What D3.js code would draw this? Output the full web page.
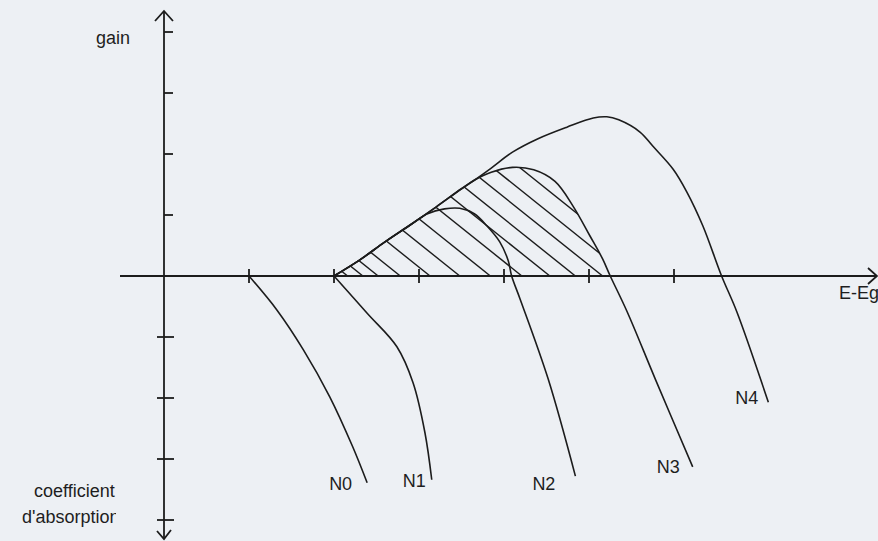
<!DOCTYPE html>
<html>
<head>
<meta charset="utf-8">
<script src="https://cdnjs.cloudflare.com/ajax/libs/d3/7.8.5/d3.min.js"></script>
<style>
  body { margin: 0; background: #edf0f4; }
  .chart text { font-family: "Liberation Sans", Arial, sans-serif; font-size: 18px; fill: #1e1e1e; }
</style>
</head>
<body>
<div class="chart"></div>
<script>
// Data (E-Eg on x, gain / absorption on y)
var xTicks = [1, 2, 3, 4, 5, 6];
var gainTicks = [1, 2, 3, 4];
var absTicks = [-1, -2, -3, -4];
var curveLabels = ["N0", "N1", "N2", "N3", "N4"];

var n0 = [[1.0, 0], [1.33, -0.56], [1.64, -1.21], [1.95, -1.98], [2.22, -2.80], [2.39, -3.39]];
var n1 = [[2.0, 0], [2.39, -0.61], [2.74, -1.16], [2.93, -1.75], [3.07, -2.57], [3.15, -3.34]];

// rising part shared by the gain curves
var envelope = [[2.0, 0], [2.3, 0.26], [2.6, 0.56], [2.9, 0.84], [3.2, 1.13], [3.5, 1.43], [3.65, 1.57]];

var n2 = [[2.0, 0], [2.3, 0.26], [2.6, 0.56], [2.9, 0.84], [3.1, 1.02], [3.3, 1.10], [3.48, 1.11],
  [3.65, 1.02], [3.8, 0.82], [3.95, 0.56], [4.05, 0.25], [4.09, 0], [4.19, -0.38], [4.52, -1.69], [4.84, -3.28]];
var n3 = envelope.concat([[3.85, 1.70], [4.1, 1.78], [4.35, 1.74], [4.6, 1.55], [4.81, 1.15], [5.01, 0.66],
  [5.16, 0.28], [5.25, 0], [5.45, -0.59], [5.78, -1.69], [6.22, -3.13]]);
var n4 = envelope.concat([[3.85, 1.77], [4.1, 2.03], [4.4, 2.25], [4.74, 2.44], [5.05, 2.59], [5.21, 2.61],
  [5.35, 2.56], [5.6, 2.36], [5.75, 2.13], [5.99, 1.75], [6.15, 1.38], [6.34, 0.82], [6.56, 0], [6.74, -0.59], [7.11, -2.07]]);

// where the hatch strokes meet the E axis
var hatchFeet = [2.16, 2.34, 2.52, 2.78, 3.13, 3.48, 3.84, 4.21, 4.54, 4.84, 5.16, 5.46, 5.78, 6.1];

var curves = [n0, n1, n2, n3, n4];

var svgWidth = 878;
var svgHeight = 541;
var ink = "#1c1c1c";

// label nudges (px) from the end of each curve
var labelNudge = [[-15, 7], [-6, 7], [-20, 14], [-13, 6], [-10, 2]];

var svg = d3.select(".chart")
  .append("svg")
  .attr("width", svgWidth)
  .attr("height", svgHeight);

svg.append("rect")
  .attr("width", svgWidth)
  .attr("height", svgHeight)
  .attr("fill", "#edf0f4");

// Step 1: scales
var x = d3.scaleLinear().domain([0, 6]).range([164, 674]);
var y = d3.scaleLinear().domain([-4, 4]).range([520, 32]);
var x0 = x(0), y0 = y(0);

var line = d3.line()
  .x(function(d) { return x(d[0]); })
  .y(function(d) { return y(d[1]); })
  .curve(d3.curveCatmullRom.alpha(0.5));

// Step 2: hatch under N3, clipped to the gain area
var area = d3.area()
  .x(function(d) { return x(d[0]); })
  .y0(y0)
  .y1(function(d) { return y(d[1]); })
  .curve(d3.curveCatmullRom.alpha(0.5));

var defs = svg.append("defs");
defs.append("clipPath").attr("id", "gainClip")
  .append("path")
  .attr("d", area(n3.filter(function(d) { return d[1] >= 0; })));
defs.append("clipPath").attr("id", "textClip")
  .append("rect").attr("x", 0).attr("y", 0).attr("width", 116).attr("height", svgHeight);

svg.append("g")
  .attr("clip-path", "url(#gainClip)")
  .selectAll("line")
  .data(hatchFeet)
  .enter()
  .append("line")
  .attr("x1", function(d) { return x(d); })
  .attr("y1", y0)
  .attr("x2", function(d) { return x(d - 2.4); })
  .attr("y2", function(d) { return y0 - (x(d) - x(d - 2.4)) * 0.8; })
  .attr("stroke", ink)
  .attr("stroke-width", 1.4);

// Step 3: axes
var axes = svg.append("g").attr("stroke", ink).attr("stroke-width", 1.8).attr("fill", "none");

axes.append("line").attr("x1", 120).attr("x2", 877).attr("y1", y0).attr("y2", y0);
axes.append("path").attr("d", "M868,268 L877," + y0 + " L868,284");

axes.append("line").attr("x1", x0).attr("x2", x0).attr("y1", 11).attr("y2", 539);
axes.append("path").attr("d", "M155,21 L" + x0 + ",11 L173,21");
axes.append("path").attr("d", "M157,531 L" + x0 + ",539 L171,530");

axes.selectAll(".xt")
  .data(xTicks)
  .enter()
  .append("line")
  .attr("x1", function(d) { return x(d); })
  .attr("x2", function(d) { return x(d); })
  .attr("y1", y0 - 7)
  .attr("y2", y0 + 7);

axes.selectAll(".gt")
  .data(gainTicks)
  .enter()
  .append("line")
  .attr("x1", x0)
  .attr("x2", x0 + 9)
  .attr("y1", function(d) { return y(d); })
  .attr("y2", function(d) { return y(d); });

axes.selectAll(".at")
  .data(absTicks)
  .enter()
  .append("line")
  .attr("x1", x0 - 7)
  .attr("x2", x0 + 10)
  .attr("y1", function(d) { return y(d); })
  .attr("y2", function(d) { return y(d); });

// Step 4: curves
svg.append("g")
  .selectAll("path")
  .data(curves)
  .enter()
  .append("path")
  .attr("d", line)
  .attr("fill", "none")
  .attr("stroke", ink)
  .attr("stroke-width", 1.6);

// Step 5: labels
svg.append("g")
  .selectAll("text")
  .data(curves)
  .enter()
  .append("text")
  .attr("x", function(d, i) { return x(d[d.length - 1][0]) + labelNudge[i][0]; })
  .attr("y", function(d, i) { return y(d[d.length - 1][1]) + labelNudge[i][1]; })
  .attr("text-anchor", "end")
  .text(function(d, i) { return curveLabels[i]; });

svg.append("text").attr("x", 96).attr("y", 44).text("gain");
svg.append("text").attr("x", 839).attr("y", 299).text("E-Eg");
svg.append("text").attr("x", 34).attr("y", 497).text("coefficient");
svg.append("text").attr("x", 22).attr("y", 523)
  .attr("clip-path", "url(#textClip)")
  .text("d'absorption");
</script>
</body>
</html>
